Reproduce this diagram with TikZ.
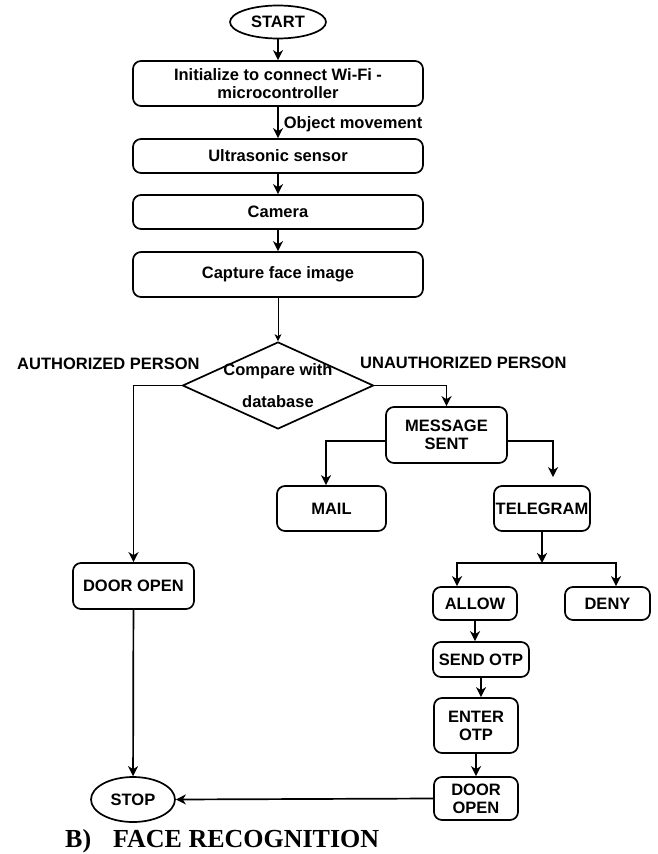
\documentclass[tikz,border=0pt]{standalone}
\usepackage{fontspec}
\setmainfont{Liberation Serif}
\setsansfont{Liberation Sans}
\usepackage{tikz}
\usetikzlibrary{shapes, arrows.meta, positioning, calc}
\newcommand{\flowfont}{\sffamily\bfseries\fontsize{16.5}{18}\selectfont}

\begin{document}
\begin{tikzpicture}[x=1pt, y=-1pt,
    box/.style={draw, line width=1.7pt, rounded corners=8pt, align=center, inner sep=0pt, font=\flowfont},
    term/.style={draw, ellipse, line width=1.7pt, inner sep=0pt, font=\flowfont},
    decision/.style={draw, diamond, line width=1.7pt, inner sep=0pt},
    arr/.style={line width=1.7pt, -{Stealth[length=10pt, width=10pt, inset=3pt]}},
    lbl/.style={inner sep=0pt, font=\flowfont}]
    \useasboundingbox (0,0) rectangle (658,854);

    % Inicio
    \node[term, minimum width=96pt, minimum height=33pt] (start) at (278,22) {START};
    \node[box, minimum width=290pt, minimum height=45pt] (init) at (278,83.5) {Initialize to connect Wi-Fi -\\microcontroller};
    \node[box, minimum width=290pt, minimum height=34pt] (ultra) at (278,156) {Ultrasonic sensor};
    \node[box, minimum width=290pt, minimum height=34pt] (camera) at (278,212) {Camera};
    \node[box, minimum width=290pt, minimum height=45pt] (capture) at (278,274.5) {Capture face image};

    % Decisao
    \node[decision, minimum width=191pt, minimum height=87pt,
          label={[lbl, align=center, font=\sffamily\bfseries\fontsize{16.5}{32}\selectfont]center:Compare with\\database}] (cmp) at (278,385.5) {};
    \node[lbl, anchor=base west] (authlbl) at (17,369) {AUTHORIZED PERSON};
    \node[lbl, anchor=base west] (unauthlbl) at (360,368) {UNAUTHORIZED PERSON};

    % Ramo autorizado
    \node[box, minimum width=121pt, minimum height=46pt] (door1) at (133.5,586) {DOOR OPEN};
    \node[term, minimum width=84pt, minimum height=45pt] (stop) at (133,799.5) {STOP};

    % Ramo nao autorizado
    \node[box, minimum width=121pt, minimum height=56pt] (msg) at (446.5,435) {MESSAGE\\SENT};
    \node[box, minimum width=109pt, minimum height=45pt] (mail) at (331.5,508.5) {MAIL};
    \node[box, minimum width=96pt, minimum height=45pt] (tele) at (542,508.5) {TELEGRAM};
    \coordinate (split) at (542,563);
    \node[box, minimum width=84pt, minimum height=33pt] (allow) at (475,603.5) {ALLOW};
    \node[box, minimum width=85pt, minimum height=33pt] (deny) at (607.5,603.5) {DENY};
    \node[box, minimum width=96pt, minimum height=35pt] (sendotp) at (481,659.5) {SEND OTP};
    \node[box, minimum width=84pt, minimum height=55pt] (enterotp) at (476,725.5) {ENTER\\OTP};
    \node[box, minimum width=84pt, minimum height=43pt] (door2) at (476,798.5) {DOOR\\OPEN};

    % Legenda
    \node[inner sep=0pt, anchor=base west, font=\rmfamily\bfseries\fontsize{26}{28}\selectfont] (caption) at (65,847) {B)\hspace{22pt}FACE RECOGNITION};

    % Setas
    \draw[arr] (start) -- (init);
    \draw[arr] (init) -- node[lbl, anchor=base west, xshift=5pt, yshift=-5.5pt] (movlbl) {Object movement} (ultra);
    \draw[arr] (ultra) -- (camera);
    \draw[arr] (camera) -- (capture);
    \draw[line width=0.8pt, -{Stealth[length=7pt, width=7pt, inset=2pt]}] (capture) -- (cmp);
    \draw[arr] (cmp.west) -| (door1.north);
    \draw[arr] (door1) -- (stop);
    \draw[arr] (cmp.east) -| (msg.north);
    \draw[arr] ([yshift=-6pt]msg.west) -| ([xshift=-5.5pt]mail.north);
    \draw[arr] ([yshift=-6pt]msg.east) -| ([xshift=11pt, yshift=8pt]tele.north);
    \draw[arr] (tele) -- (split);
    \draw[arr] (split) -| ([xshift=-18pt]allow.north);
    \draw[arr] (split) -| ([xshift=8.5pt]deny.north);
    \draw[arr] (allow.south) -- (allow.south |- sendotp.north);
    \draw[arr] (sendotp.south) -- (sendotp.south |- enterotp.north);
    \draw[arr] (enterotp) -- (door2);
    \draw[arr] (door2.west) -- (stop.east);
\end{tikzpicture}
\end{document}
